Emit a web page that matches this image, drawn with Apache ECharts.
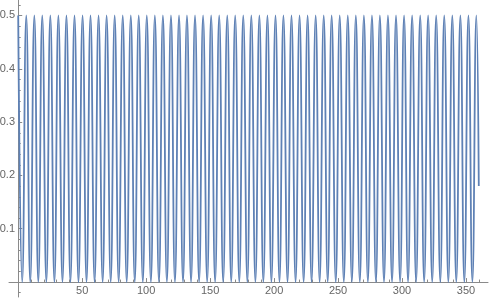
<!DOCTYPE html>
<html><head><meta charset="utf-8">
<script src="https://cdn.jsdelivr.net/npm/echarts@6/dist/echarts.min.js"></script>
<style>html,body{margin:0;padding:0;background:#fff}#c{width:489px;height:299px}</style>
</head><body><div id="c"></div>
<script>
// x positions of the peaks and troughs, plus the end point
const xs = [0,3.1,6.3,9.4,12.6,15.7,18.8,22.0,25.1,28.3,31.4,34.6,37.7,40.8,44.0,47.1,50.3,53.4,56.5,59.7,
  62.8,66.0,69.1,72.3,75.4,78.5,81.7,84.8,88.0,91.1,94.2,97.4,100.5,103.7,106.8,110.0,113.1,116.2,119.4,122.5,
  125.7,128.8,131.9,135.1,138.2,141.4,144.5,147.7,150.8,153.9,157.1,160.2,163.4,166.5,169.6,172.8,175.9,179.1,182.2,185.4,
  188.5,191.6,194.8,197.9,201.1,204.2,207.3,210.5,213.6,216.8,219.9,223.1,226.2,229.3,232.5,235.6,238.8,241.9,245.0,248.2,
  251.3,254.5,257.6,260.8,263.9,267.0,270.2,273.3,276.5,279.6,282.7,285.9,289.0,292.2,295.3,298.5,301.6,304.7,307.9,311.0,
  314.2,317.3,320.4,323.6,326.7,329.9,333.0,336.2,339.3,342.4,345.6,348.7,351.9,355.0,358.1,360];
const ys = [0.5,0,0.5,0,0.5,0,0.5,0,0.5,0,0.5,0,0.5,0,0.5,0,0.5,0,0.5,0,
  0.5,0,0.5,0,0.5,0,0.5,0,0.5,0,0.5,0,0.5,0,0.5,0,0.5,0,0.5,0,
  0.5,0,0.5,0,0.5,0,0.5,0,0.5,0,0.5,0,0.5,0,0.5,0,0.5,0,0.5,0,
  0.5,0,0.5,0,0.5,0,0.5,0,0.5,0,0.5,0,0.5,0,0.5,0,0.5,0,0.5,0,
  0.5,0,0.5,0,0.5,0,0.5,0,0.5,0,0.5,0,0.5,0,0.5,0,0.5,0,0.5,0,
  0.5,0,0.5,0,0.5,0,0.5,0,0.5,0,0.5,0,0.5,0,0.5,0.18];
const xMajorTicks = [50,100,150,200,250,300,350];
const xMinorTicks = [10,20,30,40,60,70,80,90,110,120,130,140,160,170,180,190,210,220,230,240,260,270,280,290,310,320,330,340,360];
const yMajorTicks = [0.1,0.2,0.3,0.4,0.5];
const yMinorTicks = [-0.02,0.02,0.04,0.06,0.08,0.12,0.14,0.16,0.18,0.22,0.24,0.26,0.28,0.32,0.34,0.36,0.38,0.42,0.44,0.46,0.48,0.52];

const data = xs.map((x, i) => [x, ys[i]]);
const axisColor = '#8a8a8a';
const labelStyle = {color: '#666', fontSize: 11, fontFamily: 'Liberation Sans, Arial, sans-serif'};
const X_MIN = -7.2, X_MAX = 367.2, Y_MIN = -0.028, Y_MAX = 0.529;

const chart = echarts.init(document.getElementById('c'), null, {renderer: 'canvas'});
chart.setOption({
  animation: false,
  backgroundColor: '#fff',
  grid: {left: 9, right: 1, top: 0, bottom: 2, containLabel: false, outerBoundsMode: 'none'},
  xAxis: [
    {type: 'value', min: X_MIN, max: X_MAX, position: 'bottom',
     axisLine: {show: true, onZero: true, onZeroAxisIndex: 0, lineStyle: {color: axisColor, width: 1}},
     axisTick: {show: true, inside: true, length: 4, customValues: xMajorTicks, lineStyle: {color: axisColor}},
     axisLabel: Object.assign({show: true, margin: -12, customValues: xMajorTicks}, labelStyle),
     splitLine: {show: false}},
    {type: 'value', min: X_MIN, max: X_MAX, position: 'bottom',
     axisLine: {show: false, onZero: true, onZeroAxisIndex: 0},
     axisTick: {show: true, inside: true, length: 2.5, customValues: xMinorTicks, lineStyle: {color: axisColor}},
     axisLabel: {show: false},
     splitLine: {show: false}}
  ],
  yAxis: [
    {type: 'value', min: Y_MIN, max: Y_MAX, position: 'left',
     axisLine: {show: true, onZero: true, onZeroAxisIndex: 0, lineStyle: {color: axisColor, width: 1}},
     axisTick: {show: true, inside: true, length: 4, customValues: yMajorTicks, lineStyle: {color: axisColor}},
     axisLabel: Object.assign({show: true, margin: -6, customValues: yMajorTicks}, labelStyle),
     splitLine: {show: false}},
    {type: 'value', min: Y_MIN, max: Y_MAX, position: 'left',
     axisLine: {show: false, onZero: true, onZeroAxisIndex: 0},
     axisTick: {show: true, inside: true, length: 2.5, customValues: yMinorTicks, lineStyle: {color: axisColor}},
     axisLabel: {show: false},
     splitLine: {show: false}}
  ],
  series: [{
    type: 'line', xAxisIndex: 0, yAxisIndex: 0, data: data,
    showSymbol: false, smooth: 0.5, clip: true,
    lineStyle: {color: '#5E81B5', width: 1.8}
  }]
});
</script></body></html>
